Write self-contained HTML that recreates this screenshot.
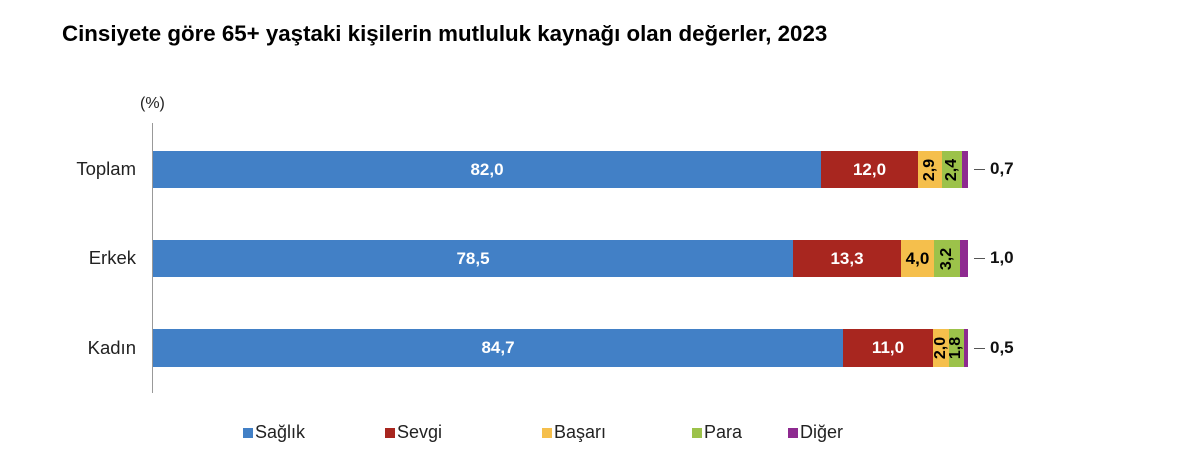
<!DOCTYPE html>
<html><head><meta charset="utf-8"><style>
body{margin:0;width:1200px;height:473px;background:#fff;font-family:"Liberation Sans",Arial,sans-serif;position:relative;overflow:hidden}
.a{position:absolute}
.t{left:62px;top:21px;font-size:22.3px;font-weight:bold;color:#000}
.bar{position:absolute;height:37px;display:flex}
.bar div{height:100%;display:flex;align-items:center;justify-content:center;font-weight:bold;font-size:17px;overflow:visible;white-space:nowrap}
.s{background:#4280c6;color:#fff}.v{background:#a8261f;color:#fff}.b{background:#f5bf4c;color:#000}.p{background:#9cc24a;color:#000}.d{background:#8e2a90}
.rot{transform:rotate(-90deg);font-size:16px}
.lab{font-size:18.5px;color:#222;text-align:right;width:90px}
.end{font-size:17px;font-weight:bold;color:#111}
.lg{font-size:18px;color:#222;top:422px}
.sq{width:10px;height:10px;top:428px}
</style></head><body>
<div class="a t">Cinsiyete göre 65+ yaştaki kişilerin mutluluk kaynağı olan değerler, 2023</div>
<div class="a" style="left:140px;top:95px;font-size:16px;color:#222">(%)</div>
<div class="a" style="left:152px;top:123px;width:1px;height:270px;background:#999"></div>

<div class="a lab" style="left:46px;top:158px">Toplam</div>
<div class="bar" style="left:153px;top:151px">
<div class="s" style="width:668px">82,0</div><div class="v" style="width:97px">12,0</div><div class="b" style="width:24px"><span class="rot">2,9</span></div><div class="p" style="width:20px"><span class="rot">2,4</span></div><div class="d" style="width:6px"></div></div>
<div class="a" style="left:974px;top:169px;width:11px;height:1px;background:#555"></div>
<div class="a end" style="left:990px;top:159px">0,7</div>

<div class="a lab" style="left:46px;top:247px">Erkek</div>
<div class="bar" style="left:153px;top:240px">
<div class="s" style="width:640px">78,5</div><div class="v" style="width:108px">13,3</div><div class="b" style="width:33px">4,0</div><div class="p" style="width:26px"><span class="rot">3,2</span></div><div class="d" style="width:8px"></div></div>
<div class="a" style="left:974px;top:258px;width:11px;height:1px;background:#555"></div>
<div class="a end" style="left:990px;top:248px">1,0</div>

<div class="a lab" style="left:46px;top:337px">Kadın</div>
<div class="bar" style="left:153px;top:329px;height:38px">
<div class="s" style="width:690px">84,7</div><div class="v" style="width:90px">11,0</div><div class="b" style="width:16px"><span class="rot">2,0</span></div><div class="p" style="width:15px"><span class="rot">1,8</span></div><div class="d" style="width:4px"></div></div>
<div class="a" style="left:974px;top:348px;width:11px;height:1px;background:#555"></div>
<div class="a end" style="left:990px;top:338px">0,5</div>

<div class="a sq" style="left:243px;background:#4280c6"></div><div class="a lg" style="left:255px">Sağlık</div>
<div class="a sq" style="left:385px;background:#a8261f"></div><div class="a lg" style="left:397px">Sevgi</div>
<div class="a sq" style="left:542px;background:#f5bf4c"></div><div class="a lg" style="left:554px">Başarı</div>
<div class="a sq" style="left:692px;background:#9cc24a"></div><div class="a lg" style="left:704px">Para</div>
<div class="a sq" style="left:788px;background:#8e2a90"></div><div class="a lg" style="left:800px">Diğer</div>
</body></html>
